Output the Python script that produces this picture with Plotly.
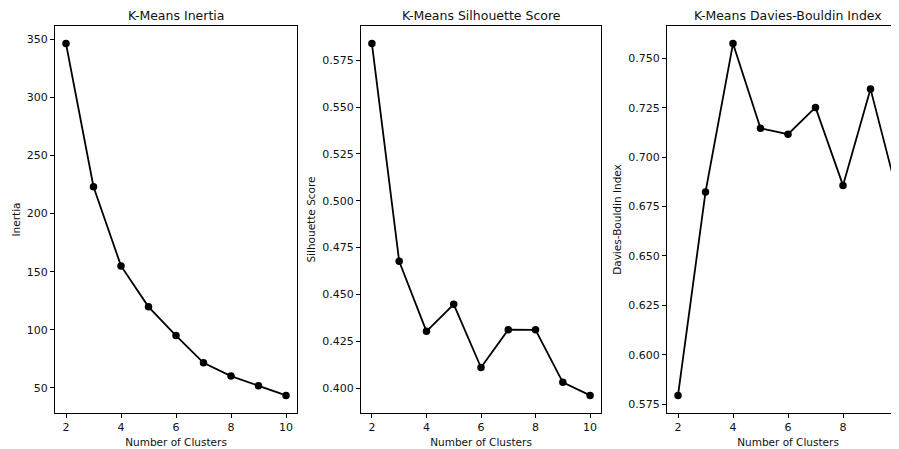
import plotly.graph_objects as go

clusters = [2, 3, 4, 5, 6, 7, 8, 9, 10]
inertia = [346.2, 223.1, 155.0, 119.8, 95.1, 71.6, 60.2, 51.9, 43.6]
silhouette = [0.5839, 0.4677, 0.4303, 0.4447, 0.4110, 0.4312, 0.4311, 0.4031, 0.3961]
davies_bouldin = [0.5795, 0.6823, 0.7574, 0.7146, 0.7116, 0.7251, 0.6857, 0.7345, 0.6805]

titles = ["K-Means Inertia", "K-Means Silhouette Score", "K-Means Davies-Bouldin Index"]
ylabels = ["Inertia", "Silhouette Score", "Davies-Bouldin Index"]
xlabel = "Number of Clusters"
x_ticks = [2, 4, 6, 8, 10]
y_ticks = [
    [50, 100, 150, 200, 250, 300, 350],
    [0.400, 0.425, 0.450, 0.475, 0.500, 0.525, 0.550, 0.575],
    [0.575, 0.600, 0.625, 0.650, 0.675, 0.700, 0.725, 0.750],
]
y_fmt = ["d", ".3f", ".3f"]

# The page body has an 8px margin, so the figure is laid out in screen
# pixels minus that offset.
OFF = 8
W, H = 920, 441
FONT = "DejaVu Sans"
TXT = "#111111"

# screen-pixel layout of the three panels (left, right) and shared top/bottom
panels_px = [(55, 297), (361, 601), (667, 909)]
top_px, bottom_px = 26, 413
title_y_px = 16

series = [inertia, silhouette, davies_bouldin]


def px_x(p):
    return (p - OFF) / W


def px_y(p):
    return 1 - (p - OFF) / H


def pad_range(vals, frac=0.05):
    lo, hi = min(vals), max(vals)
    d = (hi - lo) * frac
    return [lo - d, hi + d]


fig = go.Figure()
annotations = []
for i, (vals, (l, r)) in enumerate(zip(series, panels_px)):
    n = "" if i == 0 else str(i + 1)
    fig.add_trace(go.Scatter(
        x=clusters, y=vals, mode="lines+markers",
        line=dict(color="black", width=1.8),
        marker=dict(color="black", size=7.5),
        xaxis="x" + n, yaxis="y" + n, showlegend=False,
    ))
    axis_common = dict(
        showline=True, linecolor="black", linewidth=1, mirror=True,
        ticks="outside", ticklen=4, tickcolor="black", tickwidth=1,
        showgrid=False, zeroline=False,
        tickfont=dict(family=FONT, size=11, color=TXT),
    )
    fig.layout["xaxis" + n] = dict(
        domain=[px_x(l), px_x(r)], range=pad_range(clusters), anchor="y" + n,
        tickvals=x_ticks,
        title=dict(text=xlabel, font=dict(family=FONT, size=10.5, color=TXT), standoff=5),
        **axis_common,
    )
    fig.layout["yaxis" + n] = dict(
        domain=[px_y(bottom_px), px_y(top_px)], range=pad_range(vals), anchor="x" + n,
        tickvals=y_ticks[i], tickformat=y_fmt[i],
        title=dict(text=ylabels[i], font=dict(family=FONT, size=10.5, color=TXT), standoff=4),
        **axis_common,
    )
    annotations.append(dict(
        text=titles[i], x=px_x((l + r) / 2), y=px_y(title_y_px),
        xref="paper", yref="paper",
        showarrow=False, xanchor="center", yanchor="middle",
        font=dict(family=FONT, size=12.5, color=TXT),
    ))

fig.update_layout(
    width=W, height=H,
    margin=dict(l=0, r=0, t=0, b=0),
    paper_bgcolor="white", plot_bgcolor="white",
    annotations=annotations,
)

fig.write_html("out.html")
